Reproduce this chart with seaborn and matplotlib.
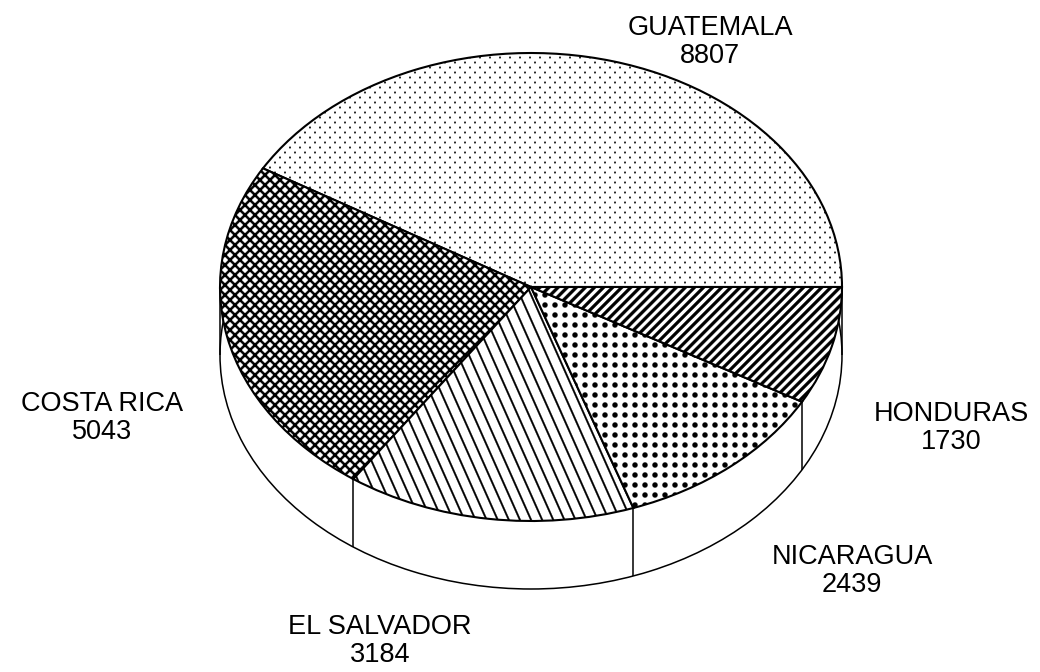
import numpy as np
import matplotlib
matplotlib.use("Agg")
import matplotlib.pyplot as plt
import matplotlib.hatch as mhatch
from matplotlib.path import Path
import seaborn as sns

countries = ["GUATEMALA", "COSTA RICA", "EL SALVADOR", "NICARAGUA", "HONDURAS"]
values = [8807, 5043, 3184, 2439, 1730]
hatches = [".", "x", "\\", "o", "/"]

W, H = 1040, 672
CX, CY, RX, RY = 531, 287, 311, 234
DEPTH = 68


def band(x0, slope_inv, w):
    y0, y1 = -0.1, 1.1
    return [(x0 - w / 2 + slope_inv * y0, y0), (x0 + w / 2 + slope_inv * y0, y0),
            (x0 + w / 2 + slope_inv * y1, y1), (x0 - w / 2 + slope_inv * y1, y1)]


def bands(n, slope_inv, w):
    return [band(k / n, slope_inv, w) for k in range(-2 * n, 2 * n + 1)]


def dot(x, y, r):
    t = np.linspace(0, 2 * np.pi, 14)[:-1]
    return list(zip(x + r * np.cos(t), y + r * np.sin(t)))


def tile_polys(name):
    if name == "/":
        return bands(11, 1.0, 0.042)
    if name == "\\":
        return bands(9, -4 / 9, 0.018)
    if name == "x":
        return bands(10, 1.0, 0.031) + bands(10, -1.0, 0.031)
    if name == "o":
        return [dot((i + .5) / 10, (j + .5) / 10, 0.026) for i in range(10) for j in range(10)]
    if name == ".":
        polys = []
        for j in range(20):
            off = 0.05 if j % 2 else 0.0
            for i in range(11):
                polys.append(dot(i / 10 + off, (j + .5) / 20, 0.0085))
        return polys
    return []


class TileHatch(mhatch.HatchPatternBase):
    def __init__(self, hatch, density):
        self.polys = tile_polys(hatch)
        self.num_vertices = sum(len(p) + 1 for p in self.polys)

    def set_vertices_and_codes(self, vertices, codes):
        c = 0
        for p in self.polys:
            n = len(p)
            vertices[c:c + n] = p
            vertices[c + n] = p[0]
            codes[c] = Path.MOVETO
            codes[c + 1:c + n] = Path.LINETO
            codes[c + n] = Path.CLOSEPOLY
            c += n + 1


mhatch._hatch_types[:] = [TileHatch]

sns.set_theme(style="white")
plt.rcParams["font.family"] = ["Liberation Sans", "DejaVu Sans"]
plt.rcParams["hatch.linewidth"] = 0.2

fig = plt.figure(figsize=(W / 100, H / 100), dpi=100, facecolor="white")
ax = fig.add_axes([0, 0, 1, 1])
depth = DEPTH / RY

# side wall: lower rim
ax.pie([sum(values)], center=(0, -depth), startangle=90, colors=["white"],
       wedgeprops=dict(edgecolor="black", linewidth=1.1, zorder=1))
edges = np.deg2rad(np.cumsum(values) / sum(values) * 360)
wall_angles = np.concatenate([[0, np.pi], edges[1:4]])
ax.vlines(np.cos(wall_angles), np.sin(wall_angles) - depth, np.sin(wall_angles),
          color="black", linewidth=1.1, zorder=1.5)

# top face
wedges, _ = ax.pie(values, startangle=0, counterclock=True, colors=["white"] * 5,
                   wedgeprops=dict(edgecolor="black", linewidth=1.5, zorder=2))
for w, h in zip(wedges, hatches):
    w.set_hatch(h)

ax.set_aspect("auto")
ax.set_xlim(-CX / RX, (W - CX) / RX)
ax.set_ylim((CY - H) / RY, CY / RY)
ax.axis("off")

label_px = [(710, 42), (102, 418), (380, 641), (852, 571), (951, 428)]
for name, val, (px, py) in zip(countries, values, label_px):
    ax.text((px - CX) / RX, (CY - py) / RY, f"{name}\n{val}", ha="center", va="center",
            fontsize=19.5, color="black", linespacing=1.12, zorder=5)

fig.savefig("out.png", dpi=100, facecolor="white")
